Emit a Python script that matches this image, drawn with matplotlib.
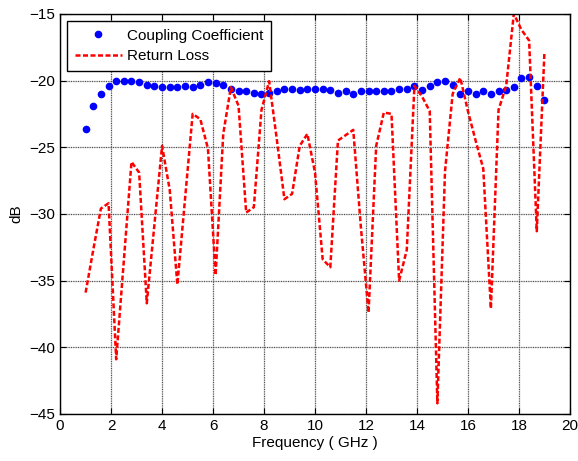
import numpy as np
import matplotlib.pyplot as plt

plt.rcParams['font.family'] = ['Liberation Sans', 'DejaVu Sans']

# frequency points (GHz)
freq = np.round(np.arange(1.0, 19.01, 0.3), 1)

coupling = [-23.6, -21.9, -21.0, -20.4, -20.0, -20.0, -20.0, -20.1, -20.3, -20.4,
            -20.5, -20.5, -20.5, -20.4, -20.5, -20.3, -20.1, -20.2, -20.3, -20.6,
            -20.8, -20.75, -20.9, -21.0, -20.9, -20.75, -20.6, -20.6, -20.7, -20.6,
            -20.6, -20.6, -20.7, -20.9, -20.75, -21.0, -20.8, -20.8, -20.75, -20.75,
            -20.8, -20.6, -20.6, -20.4, -20.7, -20.4, -20.1, -20.05, -20.3, -21.0,
            -20.8, -21.0, -20.75, -21.0, -20.75, -20.7, -20.5, -19.8, -19.7, -20.4,
            -21.45]

return_loss = [-35.9, -32.7, -29.6, -29.2, -40.9, -33.5, -26.1, -26.9, -36.7, -30.8,
               -24.9, -28.2, -35.3, -28.9, -22.5, -22.9, -25.1, -34.6, -24.0, -20.5,
               -21.9, -29.9, -29.5, -22.2, -20.05, -24.4, -28.9, -28.5, -24.9, -24.0,
               -26.9, -33.4, -34.0, -24.5, -24.1, -23.7, -31.0, -37.4, -24.9, -22.4,
               -22.5, -35.0, -32.7, -20.4, -21.2, -22.3, -44.2, -26.8, -21.0, -19.8,
               -22.3, -24.5, -26.6, -37.1, -22.2, -20.4, -15.0, -16.2, -17.0, -31.3,
               -17.9]

fig = plt.figure(figsize=(5.78, 4.61), dpi=100)
ax = fig.add_axes([0.104, 0.102, 0.882, 0.868])

ax.plot(freq, coupling, 'o', color='#0000ff', markersize=4.5, label='Coupling Coefficient')
ax.plot(freq, return_loss, color='#ff0000', linewidth=1.8, linestyle=(0, (2, 1)),
        label='Return Loss')

ax.set_xlim(0, 20)
ax.set_ylim(-45, -15)
ax.set_xticks(np.arange(0, 21, 2))
ax.set_yticks(np.arange(-45, -14, 5))
ax.set_axisbelow(True)
ax.grid(True, color='0.3', linestyle=(0, (0.8, 0.6)), linewidth=0.9)
ax.tick_params(direction='in', top=True, right=True, labelsize=11, length=4)
for s in ax.spines.values():
    s.set_linewidth(1.0)

ax.set_xlabel('Frequency ( GHz )', fontsize=11, labelpad=2)
ax.set_ylabel('dB', fontsize=11, labelpad=4)

leg = ax.legend(loc='upper left', fontsize=11, fancybox=False, framealpha=1,
                edgecolor='black', borderaxespad=0.47, handlelength=3.05,
                handletextpad=0.35, labelspacing=0.42, borderpad=0.5)
leg.get_frame().set_linewidth(1.0)

fig.savefig('out.png', dpi=100)
